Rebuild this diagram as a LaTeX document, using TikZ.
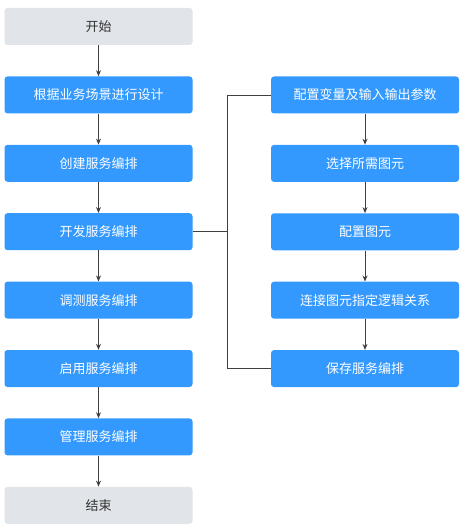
\documentclass[tikz,border=0pt]{standalone}
\usepackage{fontspec}
\setmainfont{Noto Sans CJK SC}
\usetikzlibrary{positioning,arrows.meta}
\definecolor{stepblue}{HTML}{3399FF}
\definecolor{endgray}{HTML}{E1E4E8}
\definecolor{linegray}{HTML}{404040}
\tikzset{
  blk/.style={rectangle, rounded corners=3pt, minimum width=188pt, minimum height=37pt,
    inner sep=0pt, font=\fontsize{13}{15}\selectfont},
  stepbox/.style={blk, fill=stepblue, text=white},
  endbox/.style={blk, fill=endgray, text=black!80},
  flow/.style={draw=linegray, line width=0.9pt, -{Stealth[length=6pt,width=5pt]}},
  wire/.style={draw=linegray, line width=0.9pt}
}
\begin{document}
\begin{tikzpicture}[node distance=31pt]
 \useasboundingbox (0pt,0pt) rectangle (468pt,-532pt);
 % left column
 \node[endbox] (start) at (98.5pt,-26.5pt) {开始};
 \node[stepbox, below=of start] (design) {根据业务场景进行设计};
 \node[stepbox, below=of design] (create) {创建服务编排};
 \node[stepbox, below=of create] (develop) {开发服务编排};
 \node[stepbox, below=of develop] (debug) {调测服务编排};
 \node[stepbox, below=of debug] (enable) {启用服务编排};
 \node[stepbox, below=of enable] (manage) {管理服务编排};
 \node[endbox, below=of manage] (finish) {结束};
 % right column
 \node[stepbox] (vars) at (365pt,-95pt) {配置变量及输入输出参数};
 \node[stepbox, below=of vars] (choose) {选择所需图元};
 \node[stepbox, below=of choose] (config) {配置图元};
 \node[stepbox, below=of config] (link) {连接图元指定逻辑关系};
 \node[stepbox, below=of link] (save) {保存服务编排};
 \foreach \a/\b in {start/design, design/create, create/develop, develop/debug,
   debug/enable, enable/manage, manage/finish, vars/choose, choose/config,
   config/link, link/save}
   \draw[flow] (\a) -- (\b);
 % bracket
 \coordinate (bus) at ([xshift=35pt]develop.east);
 \draw[wire] (develop.east) -- (bus);
 \draw[wire] (vars.west) -| (bus) |- (save.west);
\end{tikzpicture}
\end{document}
